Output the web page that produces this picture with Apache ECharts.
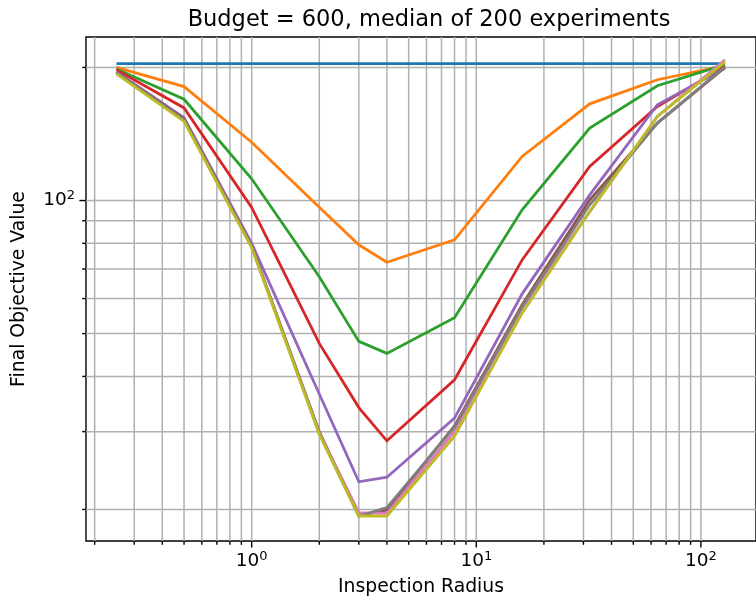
<!DOCTYPE html>
<html>
<head>
<meta charset="utf-8">
<script src="https://cdn.jsdelivr.net/npm/echarts@6/dist/echarts.min.js"></script>
<style>
  html, body { margin: 0; padding: 0; background: #ffffff; }
  #chart { width: 756px; height: 606px; }
</style>
</head>
<body>
<div id="chart"></div>
<script>
// Inspection radii (x) and median final objective values per strategy
const radii = [0.25, 0.5, 1, 2, 3, 4, 8, 16, 32, 64, 128];

const seriesBlue   = [204, 204, 204, 204, 204, 204, 204, 204, 204, 204, 204];
const seriesOrange = [200, 181, 135.5, 96.5, 79.4, 72.5, 81.5, 125.8, 165.5, 187.6, 202];
const seriesGreen  = [198.5, 169.5, 112, 67.2, 48, 45.1, 54.3, 95.3, 145.8, 181.8, 203];
const seriesRed    = [197.5, 162, 96.5, 47.5, 34.0, 28.6, 39.3, 73.4, 119.4, 163.2, 201];
const seriesPurple = [195.5, 154, 80, 36.5, 23.1, 23.66, 32.2, 61.5, 103, 164.7, 199.5];
const seriesBrown  = [195, 153, 79, 30, 19.35, 19.95, 30.9, 58.1, 100.4, 149.7, 200];
const seriesPink   = [194.5, 152, 78.7, 29.8, 19.67, 19.6, 30.0, 57.1, 94.4, 154.9, 208];
const seriesGray   = [194.5, 152, 78.7, 29.7, 19.33, 20.2, 30.7, 57.5, 97.8, 149.7, 201];
const seriesOlive  = [193.5, 151, 78.3, 29.6, 19.33, 19.33, 29.3, 55.6, 94.4, 154.9, 206];

// Tick values (major = decades, minor = 2..9 multiples)
const xMajorTicks = [1, 10, 100];
const xMinorTicks = [0.2, 0.3, 0.4, 0.5, 0.6, 0.7, 0.8, 0.9,
                     2, 3, 4, 5, 6, 7, 8, 9,
                     20, 30, 40, 50, 60, 70, 80, 90];
const yMajorTicks = [100];
const yMinorTicks = [20, 30, 40, 50, 60, 70, 80, 90, 200];

const lineSets = [
  { values: seriesBlue,   color: '#1f77b4' },
  { values: seriesOrange, color: '#ff7f0e' },
  { values: seriesGreen,  color: '#2ca02c' },
  { values: seriesRed,    color: '#d62728' },
  { values: seriesPurple, color: '#9467bd' },
  { values: seriesBrown,  color: '#8c564b' },
  { values: seriesPink,   color: '#e377c2' },
  { values: seriesGray,   color: '#7f7f7f' },
  { values: seriesOlive,  color: '#bcbd22' }
];

const FONT = 'DejaVu Sans';
const GRID_COLOR = '#b0b0b0';
const X_MIN = 0.183, X_MAX = 175.9;
const Y_MIN = 16.97, Y_MAX = 234.4;

function powLabel(v) {
  const e = Math.log10(v);
  const r = Math.round(e);
  if (Math.abs(e - r) > 1e-6) return '';
  return '{b|10}{s|' + r + '}';
}

const labelRich = {
  b: { fontFamily: FONT, fontSize: 18.5, color: '#000' },
  s: { fontFamily: FONT, fontSize: 13, color: '#000', padding: [0, 0, 10, 0] }
};

// Vertical gridlines + bottom ticks
function xGridItem(len) {
  return function (params, api) {
    const cs = params.coordSys;
    const px = api.coord([api.value(0), 100])[0];
    const bottom = cs.y + cs.height;
    return {
      type: 'group',
      children: [
        { type: 'line', shape: { x1: px, y1: cs.y, x2: px, y2: bottom },
          style: { stroke: GRID_COLOR, lineWidth: 1.5 } },
        { type: 'line', shape: { x1: px, y1: bottom, x2: px, y2: bottom + len },
          style: { stroke: '#000', lineWidth: 1.4 } }
      ]
    };
  };
}

// Horizontal gridlines + left ticks
function yGridItem(len) {
  return function (params, api) {
    const cs = params.coordSys;
    const py = api.coord([1, api.value(1)])[1];
    return {
      type: 'group',
      children: [
        { type: 'line', shape: { x1: cs.x, y1: py, x2: cs.x + cs.width, y2: py },
          style: { stroke: GRID_COLOR, lineWidth: 1.5 } },
        { type: 'line', shape: { x1: cs.x - len, y1: py, x2: cs.x, y2: py },
          style: { stroke: '#000', lineWidth: 1.4 } }
      ]
    };
  };
}

const series = [
  { type: 'custom', silent: true, renderItem: xGridItem(3.8),
    data: xMinorTicks.map(v => [v, 100]), z: 1 },
  { type: 'custom', silent: true, renderItem: xGridItem(6.6),
    data: xMajorTicks.map(v => [v, 100]), z: 1 },
  { type: 'custom', silent: true, renderItem: yGridItem(3.8),
    data: yMinorTicks.map(v => [1, v]), z: 1 },
  { type: 'custom', silent: true, renderItem: yGridItem(6.6),
    data: yMajorTicks.map(v => [1, v]), z: 1 }
];

lineSets.forEach(s => {
  series.push({
    type: 'line',
    data: radii.map((x, i) => [x, s.values[i]]),
    symbol: 'none',
    smooth: false,
    lineStyle: { color: s.color, width: 2.8, cap: 'butt', join: 'miter' },
    itemStyle: { color: s.color },
    z: 2,
    silent: true
  });
});

const chart = echarts.init(document.getElementById('chart'), null, { renderer: 'canvas' });
chart.setOption({
  animation: false,
  backgroundColor: '#ffffff',
  title: {
    text: 'Budget = 600, median of 200 experiments',
    left: 424,
    top: 4,
    textAlign: 'center',
    textStyle: { fontFamily: FONT, fontSize: 22.5, fontWeight: 'normal', color: '#000' }
  },
  grid: {
    left: 86, top: 37, width: 676, height: 504,
    show: true, borderColor: '#000', borderWidth: 1.4, backgroundColor: 'transparent',
    containLabel: false
  },
  xAxis: {
    type: 'log', logBase: 10, min: X_MIN, max: X_MAX,
    name: 'Inspection Radius', nameLocation: 'middle', nameGap: 37,
    nameTextStyle: { fontFamily: FONT, fontSize: 18.8, color: '#000' },
    axisLine: { show: false },
    axisTick: { show: false },
    splitLine: { show: false },
    minorTick: { show: false },
    axisLabel: {
      formatter: powLabel, rich: labelRich, margin: 9,
      showMinLabel: false, showMaxLabel: false
    }
  },
  yAxis: {
    type: 'log', logBase: 10, min: Y_MIN, max: Y_MAX,
    name: 'Final Objective Value', nameLocation: 'middle', nameGap: 57,
    nameTextStyle: { fontFamily: FONT, fontSize: 18.8, color: '#000' },
    axisLine: { show: false },
    axisTick: { show: false },
    splitLine: { show: false },
    minorTick: { show: false },
    axisLabel: {
      formatter: powLabel, rich: labelRich, margin: 11,
      showMinLabel: false, showMaxLabel: false
    }
  },
  series: series
});
</script>
</body>
</html>
